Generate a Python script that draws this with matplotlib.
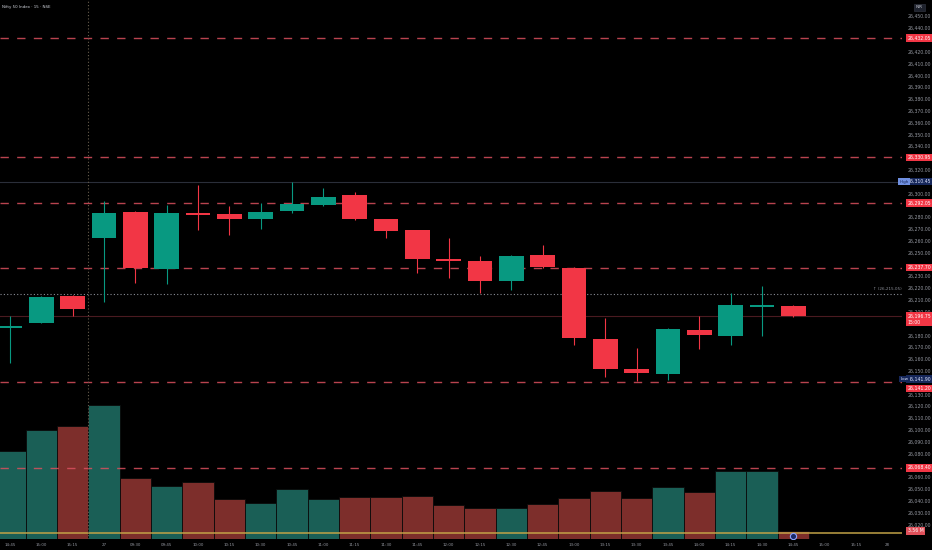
import matplotlib
matplotlib.use("Agg")
import matplotlib.pyplot as plt
import matplotlib.transforms as mtransforms

plt.rcParams["font.family"] = ["DejaVu Sans"]

# 15 minute candles, Nifty 50 (26th 14:45 -> 27th 14:45)
times = ["14:45", "15:00", "15:15", "27", "09:30", "09:45", "10:00", "10:15", "10:30",
         "10:45", "11:00", "11:15", "11:30", "11:45", "12:00", "12:15", "12:30", "12:45",
         "13:00", "13:15", "13:30", "13:45", "14:00", "14:15", "14:30", "14:45",
         "15:00", "15:15", "28"]
opens = [26187.0, 26190.9, 26213.7, 26262.8, 26284.8, 26236.5, 26283.6, 26283.1, 26278.8,
         26285.6, 26290.7, 26299.1, 26278.8, 26269.5, 26244.6, 26243.4, 26226.4, 26248.3,
         26237.4, 26177.4, 26152.0, 26147.7, 26184.9, 26179.9, 26205.0, 26205.3]
highs = [26196.8, 26213.8, 26214.2, 26294.1, 26285.5, 26290.7, 26307.6, 26289.8, 26292.4,
         26310.45, 26305.1, 26301.6, 26279.2, 26269.9, 26262.8, 26247.5, 26248.0, 26256.8,
         26238.0, 26195.1, 26169.7, 26186.3, 26196.8, 26216.2, 26222.2, 26206.0]
lows = [26157.0, 26190.5, 26196.8, 26208.6, 26224.7, 26223.9, 26269.5, 26265.3, 26270.4,
        26283.9, 26289.9, 26278.3, 26262.8, 26233.2, 26228.9, 26216.2, 26218.8, 26237.7,
        26172.2, 26145.2, 26141.9, 26142.7, 26168.8, 26172.2, 26179.9, 26196.0]
closes = [26187.6, 26212.9, 26202.7, 26283.9, 26237.4, 26283.9, 26283.1, 26278.8, 26284.8,
          26291.6, 26297.4, 26278.8, 26268.7, 26245.0, 26244.0, 26226.4, 26247.5, 26238.2,
          26178.2, 26152.0, 26148.5, 26185.8, 26180.7, 26206.1, 26205.5, 26196.75]
volumes = [39.2, 48.5, 50.3, 59.6, 27.1, 23.6, 25.4, 17.8, 16.0, 22.3, 17.8, 18.7, 18.7,
           19.1, 15.1, 13.8, 13.8, 15.6, 18.2, 21.4, 18.2, 23.1, 20.9, 30.3, 30.3, 3.56]

levels = [26432.05, 26330.95, 26292.05, 26237.70, 26141.20, 26068.40]
day_high = 26310.45
day_low = 26141.90
last_price = 26196.75
cross_price = 26215.3

UP = "#089981"
DOWN = "#f23645"
VOL_UP = "#1a5f56"
VOL_DOWN = "#7d2e2b"
BG = "#000000"
AXIS_TXT = "#9598a1"

fig = plt.figure(figsize=(9.32, 5.5), dpi=100, facecolor=BG)
rect = [0, 11 / 550, 902 / 932, 539 / 550]

# volume pane (behind)
axv = fig.add_axes(rect)
axv.set_facecolor(BG)
idx = list(range(len(volumes)))
vcols = [VOL_UP if c >= o else VOL_DOWN for o, c in zip(opens, closes)]
axv.bar(idx, volumes, width=1.0, color=vcols, edgecolor="#0a0a0a", linewidth=0.6)
axv.axhline(2.7, color="#c4a447", lw=1.2, alpha=0.9)
axv.plot([25], [1.3], "o", ms=4.5, mfc="#1a2a6a", mec="#8fa4ff", mew=0.8)
axv.set_ylim(0, 240)
axv.set_xlim(-0.32, 28.47)
axv.axis("off")

# price pane
ax = fig.add_axes(rect)
ax.patch.set_visible(False)
ax.set_xlim(-0.32, 28.47)
ax.set_ylim(26008.1, 26464.1)
for s in ax.spines.values():
    s.set_visible(False)
ax.set_xticks([])
ax.set_yticks([])

for lv in levels:
    ax.axhline(lv, color="#d9505e", lw=1.0, ls=(0, (6, 6)), alpha=0.85)
ax.axhline(day_high, color="#2a2e39", lw=0.8)
ax.axhline(last_price, color="#4a1a20", lw=0.8)
ax.axhline(cross_price, color="#8a8d96", lw=0.8, ls=(0, (1, 2)))
ax.axvline(2.5, color="#6a6050", lw=0.8, ls=(0, (1, 2)))

for i, (o, h, l, c) in enumerate(zip(opens, highs, lows, closes)):
    col = UP if c >= o else DOWN
    ax.vlines(i, l, h, color=col, lw=0.8, zorder=3)
    bot = min(o, c)
    hgt = max(abs(c - o), 1.6)
    if abs(c - o) < 1.6:
        bot = (o + c) / 2 - 0.8
    ax.bar(i, hgt, bottom=bot, width=0.78, color=col, zorder=4)

ax.text(-0.25, 26458, "Nifty 50 Index · 15 · NSE", color="#d1d4dc", fontsize=2.9,
        va="center", ha="left")
ax.text(28.45, cross_price + 4.5, "↑ (26,215.05)", color="#8a8d96", fontsize=3.0,
        ha="right", va="center")

# right price scale
tr = mtransforms.blended_transform_factory(ax.transAxes, ax.transData)
boxed = levels + [day_high, day_low, 26193.0, 26014.9]
for p in range(26020, 26451, 10):
    if min(abs(p - b) for b in boxed) < 5:
        continue
    ax.text(1.019, p, f"{p:,.2f}", transform=tr, color=AXIS_TXT, fontsize=3.3,
            ha="center", va="center", clip_on=False)


def tag(price, txt, fc, tc="white"):
    ax.text(1.0063, price, txt, transform=tr, color=tc, fontsize=3.3, ha="left",
            va="center", clip_on=False, linespacing=1.3,
            bbox=dict(boxstyle="square,pad=0.3", fc=fc, ec="none"))


tag(26432.05, "26,432.05", DOWN)
tag(26330.95, "26,330.95", DOWN)
tag(26292.05, "26,292.05", DOWN)
tag(26237.70, "26,237.70", DOWN)
tag(26068.40, "26,068.40", DOWN)
tag(day_high, "26,310.45", "#16275a", "#dfe6ff")
tag(day_low + 1.5, "26,141.90", "#16275a", "#dfe6ff")
tag(day_low - 6.5, "26,141.20", DOWN)
tag(last_price - 2.5, "26,196.75\n15:00", DOWN)
tag(26014.9, "3.56 M", "#e0505a")
ax.text(0.9975, day_high, "High", transform=tr, color="#16275a", fontsize=3.0,
        ha="left", va="center", clip_on=False,
        bbox=dict(boxstyle="square,pad=0.3", fc="#6f8fe0", ec="none"))
ax.text(0.9985, day_low + 1.5, "Low", transform=tr, color="#dfe6ff", fontsize=3.0,
        ha="left", va="center", clip_on=False,
        bbox=dict(boxstyle="square,pad=0.3", fc="#16275a", ec="none"))
ax.text(1.0155, 26458, "INR", transform=tr, color="#d1d4dc", fontsize=3.0,
        ha="left", va="center", clip_on=False,
        bbox=dict(boxstyle="square,pad=0.4", fc="#1e222d", ec="#363a45", lw=0.4))

# time scale
for i, t in enumerate(times):
    ax.text(i, 26008.1 - 5.4, t, color=AXIS_TXT, fontsize=2.9, ha="center",
            va="center", clip_on=False)

fig.savefig("out.png", dpi=100, facecolor=BG)
